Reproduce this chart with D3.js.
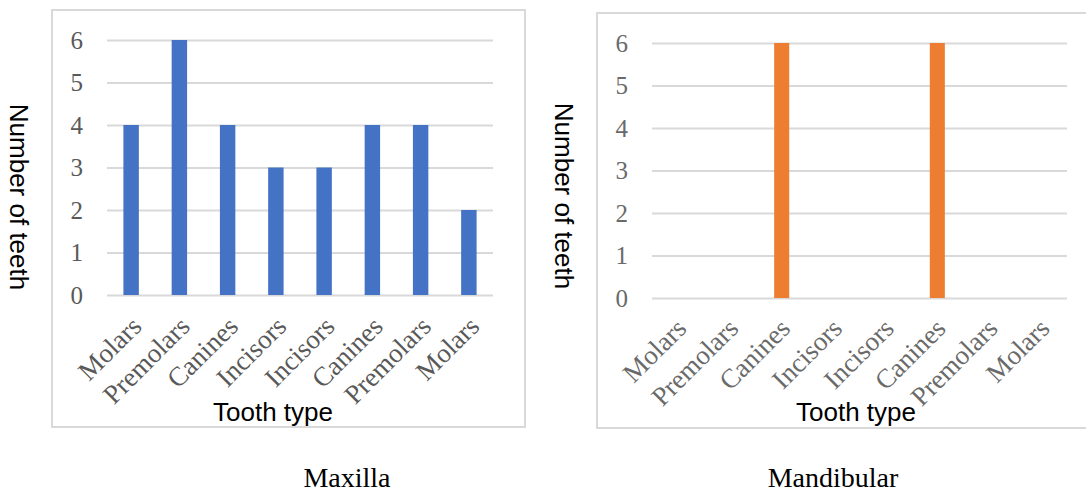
<!DOCTYPE html>
<html>
<head>
<meta charset="utf-8">
<script src="https://cdn.jsdelivr.net/npm/d3@7"></script>
<style>
  html, body { margin: 0; padding: 0; background: #ffffff; }
  svg { display: block; }
</style>
</head>
<body>
<svg id="chart" width="1086" height="494"></svg>
<script>
// Tooth positions along the arch, left to right
const categories = ["Molars", "Premolars", "Canines", "Incisors", "Incisors", "Canines", "Premolars", "Molars"];
// Number of teeth per position
const maxillaCounts = [4, 6, 4, 3, 3, 4, 4, 2];
const mandibularCounts = [0, 0, 6, 0, 0, 6, 0, 0];
const yTicks = [0, 1, 2, 3, 4, 5, 6];

const svg = d3.select("#chart");

function drawPanel(opts) {
  const g = svg.append("g");

  // outer frame
  g.append("rect")
    .attr("x", opts.frame[0]).attr("y", opts.frame[1])
    .attr("width", opts.frame[2]).attr("height", opts.frame[3])
    .attr("fill", "#ffffff").attr("stroke", "#d9d9d9").attr("stroke-width", 2);

  const x = d3.scaleBand()
    .domain(d3.range(categories.length))
    .range([opts.left, opts.right])
    .paddingInner(opts.pad).paddingOuter(opts.pad / 2);

  const y = d3.scaleLinear().domain([0, 6]).range([opts.bottom, opts.top]);

  // value axis with gridlines
  const ya = g.append("g")
    .attr("transform", `translate(${opts.left},0)`)
    .call(d3.axisLeft(y).tickValues(yTicks).tickFormat(d3.format("d"))
      .tickSize(-(opts.right - opts.left)).tickPadding(24));
  ya.select(".domain").remove();
  ya.selectAll(".tick line").attr("stroke", "#d9d9d9").attr("stroke-width", 2);
  ya.selectAll(".tick text")
    .attr("fill", opts.tickColor)
    .style("font-family", "'Liberation Serif', 'Times New Roman', serif")
    .style("font-size", "25px");

  // bars
  g.selectAll("rect.bar")
    .data(opts.values)
    .join("rect")
    .attr("class", "bar")
    .attr("x", (d, i) => x(i))
    .attr("width", x.bandwidth())
    .attr("y", d => y(d))
    .attr("height", d => y(0) - y(d))
    .attr("fill", opts.color);

  // category axis
  const xa = g.append("g")
    .attr("transform", `translate(0,${opts.bottom})`)
    .call(d3.axisBottom(x).tickSize(0).tickFormat(i => categories[i]));
  xa.select(".domain").remove();
  xa.selectAll(".tick text")
    .attr("fill", opts.tickColor)
    .attr("text-anchor", "end")
    .attr("dy", null)
    .attr("y", 0)
    .attr("transform", `translate(${opts.labelDx},${opts.labelDy}) rotate(-45)`)
    .style("font-family", "'Liberation Serif', 'Times New Roman', serif")
    .style("font-size", "27px");

  // axis titles
  g.append("text")
    .attr("transform", `translate(${opts.yTitle[0]},${opts.yTitle[1]}) rotate(90)`)
    .attr("text-anchor", "middle")
    .style("font-family", "'Liberation Sans', Arial, sans-serif")
    .style("font-size", "26px")
    .attr("fill", "#000000")
    .text("Number of teeth");

  g.append("text")
    .attr("x", opts.xTitle[0]).attr("y", opts.xTitle[1])
    .attr("text-anchor", "middle")
    .style("font-family", "'Liberation Sans', Arial, sans-serif")
    .style("font-size", "26px")
    .attr("fill", "#000000")
    .text("Tooth type");

  // caption under the panel
  g.append("text")
    .attr("x", opts.caption[0]).attr("y", opts.caption[1])
    .attr("text-anchor", "middle")
    .style("font-family", "'Liberation Serif', 'Times New Roman', serif")
    .style("font-size", "28px")
    .attr("fill", "#000000")
    .text(opts.captionText);
}

drawPanel({
  frame: [52, 10, 473, 417],
  left: 107, right: 493, top: 40, bottom: 295,
  pad: 0.68,
  values: maxillaCounts,
  color: "#4472c4",
  tickColor: "#595959",
  labelDx: 12, labelDy: 33,
  yTitle: [10, 197],
  xTitle: [273, 421],
  caption: [347, 487],
  captionText: "Maxilla"
});

drawPanel({
  frame: [597, 13, 500, 415],
  left: 652, right: 1067, top: 43, bottom: 298,
  pad: 0.71,
  values: mandibularCounts,
  color: "#ed7d31",
  tickColor: "#6a6a6a",
  labelDx: 10, labelDy: 32,
  yTitle: [555, 196],
  xTitle: [856, 421],
  caption: [833, 487],
  captionText: "Mandibular"
});
</script>
</body>
</html>
